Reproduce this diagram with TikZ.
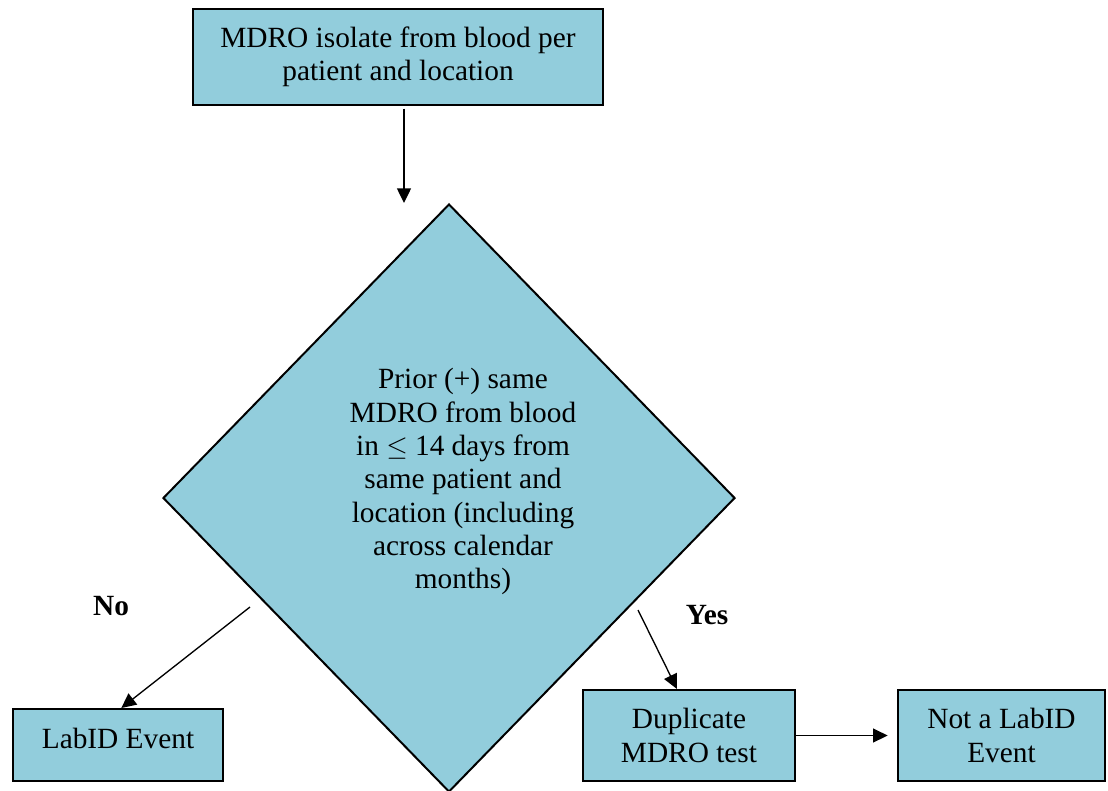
\documentclass[tikz,border=0pt]{standalone}
\usepackage{fontspec}
\setmainfont{Liberation Serif}
\usetikzlibrary{shapes.geometric,arrows.meta}

\definecolor{boxblue}{RGB}{146,205,220}

\begin{document}
\begin{tikzpicture}[x=0.75pt, y=-0.75pt,
    font=\fontsize{22}{25}\selectfont,
    stepbox/.style={draw, line width=1.5pt, fill=boxblue, align=center, inner sep=0pt},
    arr/.style={-{Triangle[length=11pt, width=10.5pt]}, line width=1pt}]

    \useasboundingbox (0,0) rectangle (1108,790);

    % Start box
    \node[stepbox, minimum width=410*0.75pt, minimum height=96*0.75pt] (top) at (398,57)
        {MDRO isolate from blood per\\patient and location};

    % Decision diamond
    \node[stepbox, diamond, text depth=29pt, minimum width=572*0.75pt, minimum height=588*0.75pt] (dia) at (449,498)
        {\hspace*{21pt}Prior (+) same\\\hspace*{21pt}MDRO from blood\\\hspace*{21pt}in $\leq$ 14 days from\\\hspace*{21pt}same patient and\\\hspace*{21pt}location (including\\\hspace*{21pt}across calendar\\\hspace*{21pt}months)};

    % Result boxes
    \node[stepbox, text depth=10pt, minimum width=210*0.75pt, minimum height=72*0.75pt] (lab) at (118,745) {LabID Event};
    \node[stepbox, minimum width=212*0.75pt, minimum height=91*0.75pt] (dup) at (689,735.5)
        {Duplicate\\MDRO test};
    \node[stepbox, minimum width=207*0.75pt, minimum height=91*0.75pt] (nota) at (1001.5,735.5)
        {Not a LabID\\Event};

    % Branch labels
    \node[font=\fontsize{22}{25}\selectfont\bfseries] (no) at (111,606) {No};
    \node[font=\fontsize{22}{25}\selectfont\bfseries] (yes) at (707,615) {Yes};

    % Arrows
    \coordinate (tarr) at ([xshift=4.5pt]top.south);
    \draw[arr, shorten <=2pt] (tarr) -- (tarr |- dia.north);

    \coordinate (nofrom) at (250,607);
    \draw[arr] (nofrom) -- ([xshift=2.5pt]lab.north);

    \coordinate (yesfrom) at (638,610);
    \draw[arr] (yesfrom) -- ([xshift=-9pt]dup.north);

    \draw[arr, shorten >=7pt] (dup) -- (nota);

\end{tikzpicture}
\end{document}
